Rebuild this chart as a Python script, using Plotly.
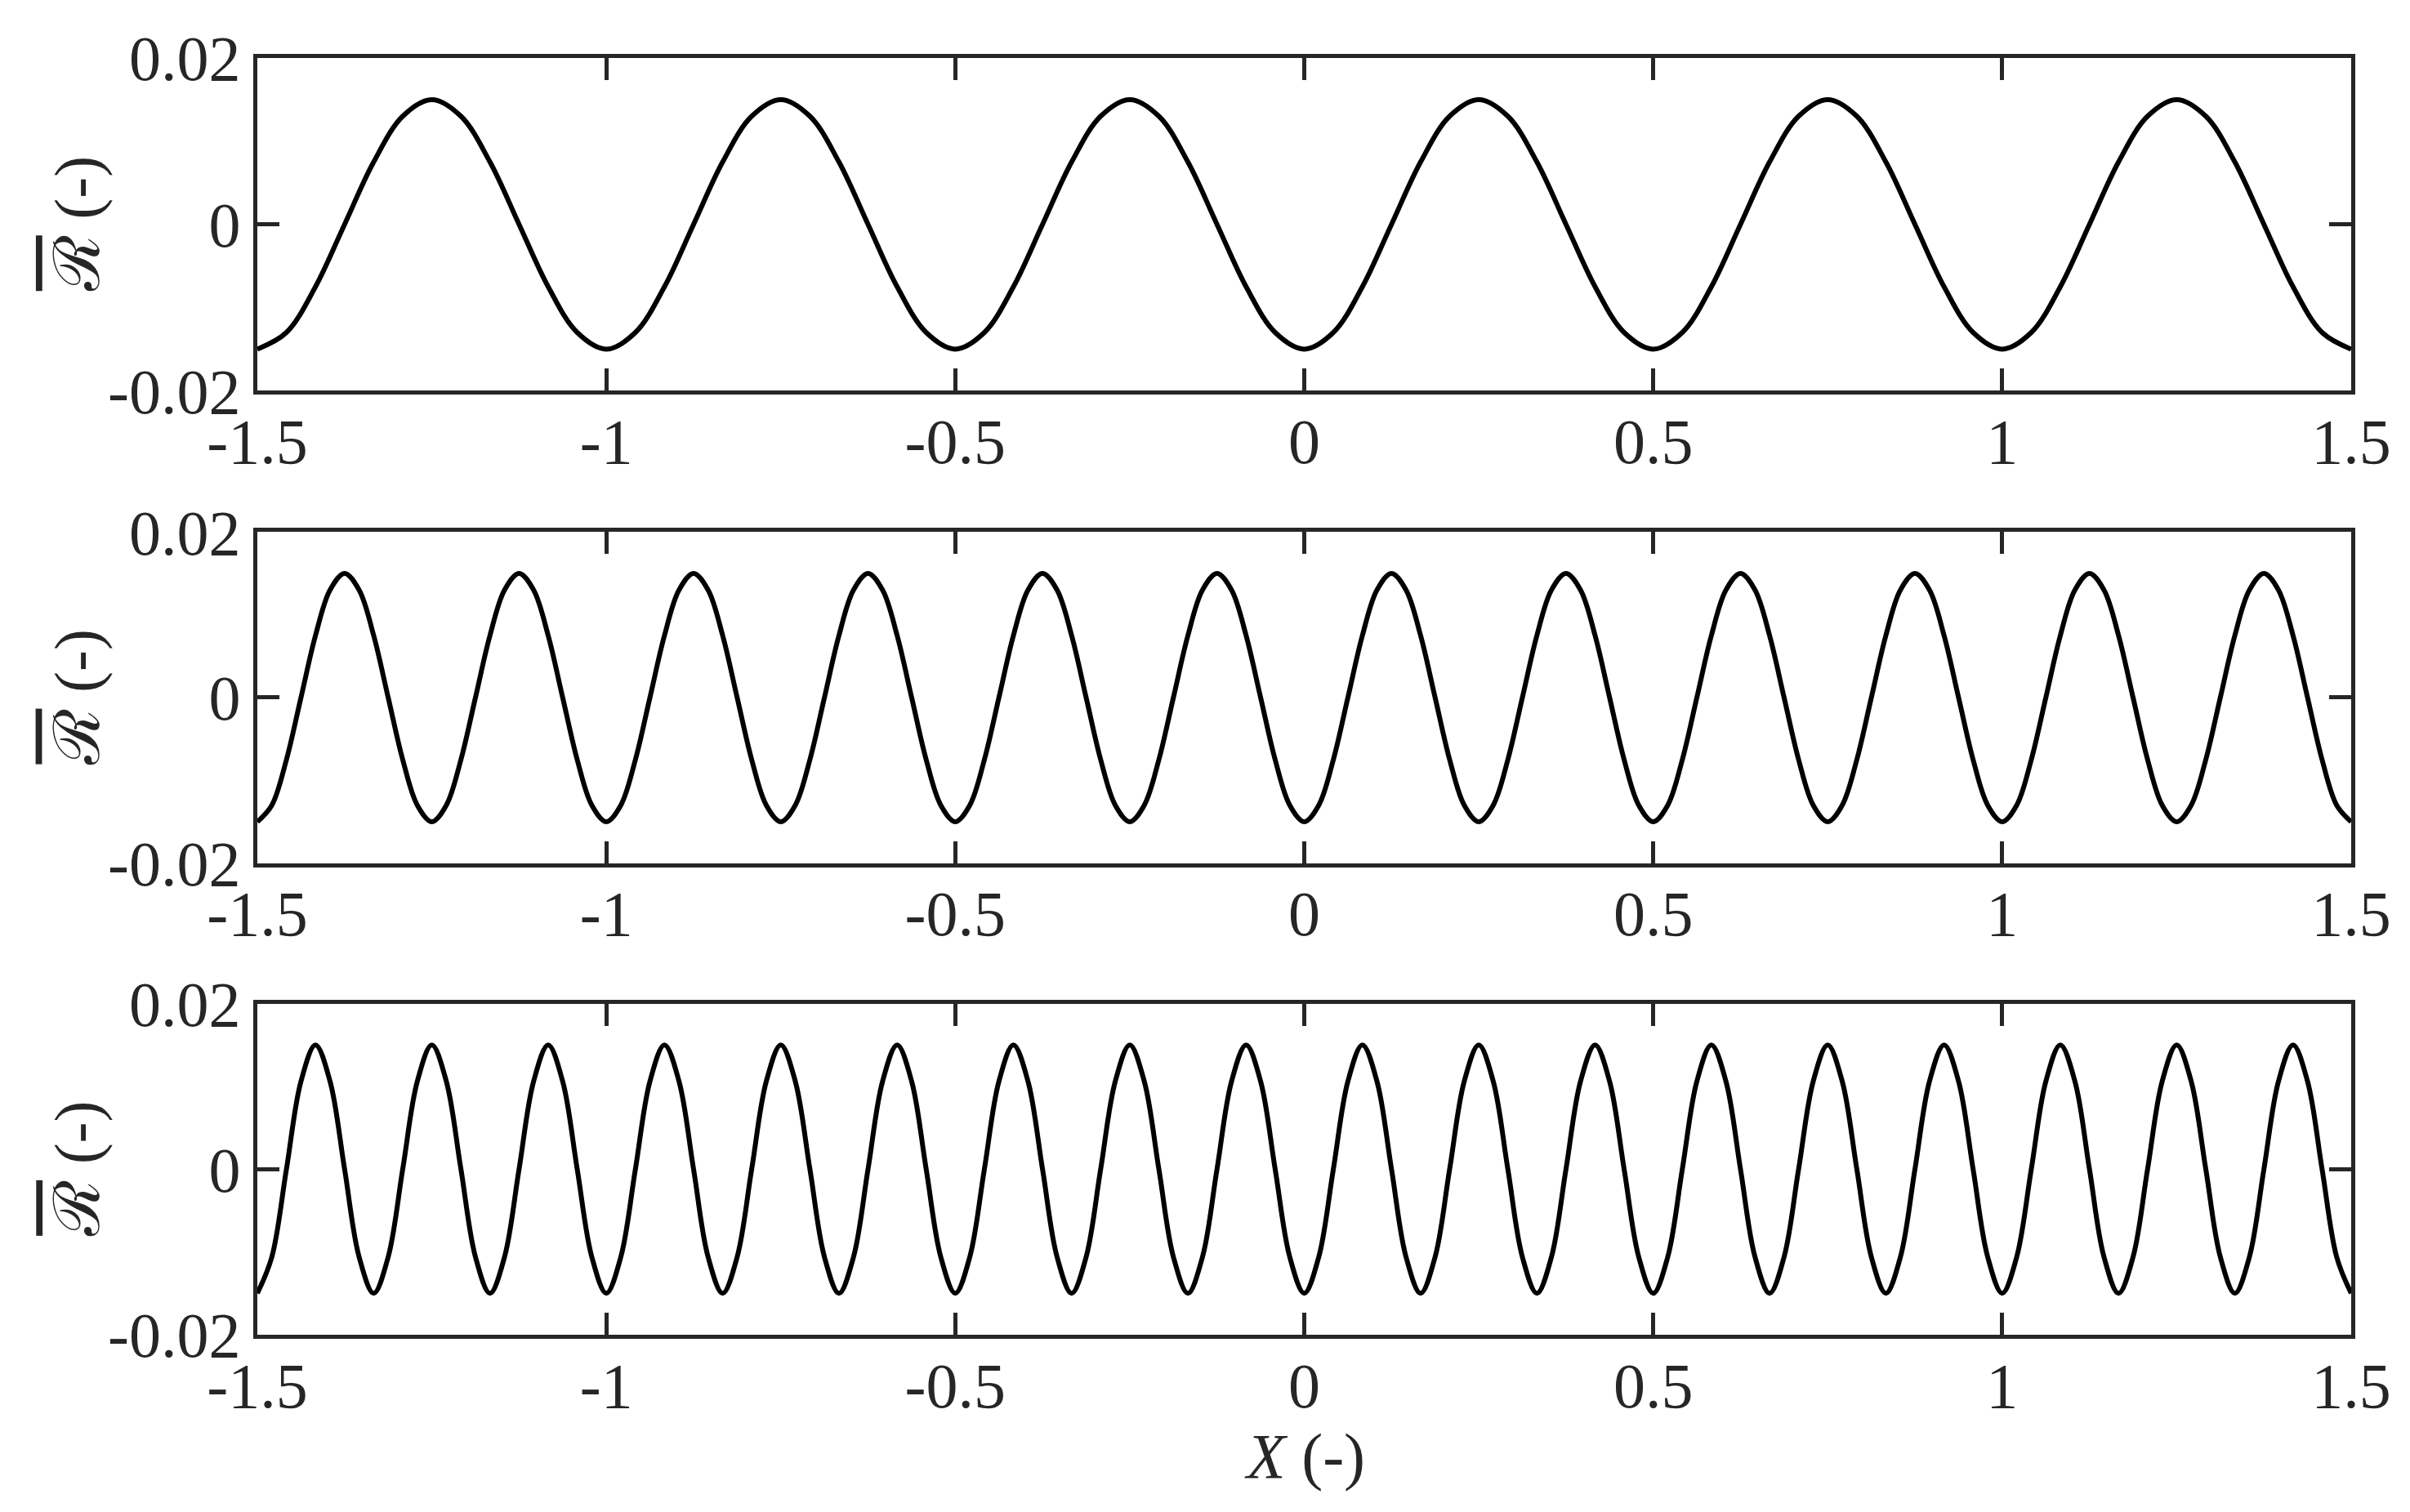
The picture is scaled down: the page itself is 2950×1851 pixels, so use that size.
import plotly.graph_objects as go
from plotly.subplots import make_subplots

# values at evenly spaced X positions
x_top = [-1.5, -1.4583, -1.4167, -1.375, -1.3333, -1.2917, -1.25, -1.2083, -1.1667, -1.125, -1.0833, -1.0417,
         -1.0, -0.9583, -0.9167, -0.875, -0.8333, -0.7917, -0.75, -0.7083, -0.6667, -0.625, -0.5833, -0.5417,
         -0.5, -0.4583, -0.4167, -0.375, -0.3333, -0.2917, -0.25, -0.2083, -0.1667, -0.125, -0.0833, -0.0417,
         0.0, 0.0417, 0.0833, 0.125, 0.1667, 0.2083, 0.25, 0.2917, 0.3333, 0.375, 0.4167, 0.4583,
         0.5, 0.5417, 0.5833, 0.625, 0.6667, 0.7083, 0.75, 0.7917, 0.8333, 0.875, 0.9167, 0.9583,
         1.0, 1.0417, 1.0833, 1.125, 1.1667, 1.2083, 1.25, 1.2917, 1.3333, 1.375, 1.4167, 1.4583, 1.5]
r_top = [-0.015, -0.013, -0.0075, 0, 0.0075, 0.013, 0.015, 0.013, 0.0075, 0, -0.0075, -0.013,
         -0.015, -0.013, -0.0075, 0, 0.0075, 0.013, 0.015, 0.013, 0.0075, 0, -0.0075, -0.013,
         -0.015, -0.013, -0.0075, 0, 0.0075, 0.013, 0.015, 0.013, 0.0075, 0, -0.0075, -0.013,
         -0.015, -0.013, -0.0075, 0, 0.0075, 0.013, 0.015, 0.013, 0.0075, 0, -0.0075, -0.013,
         -0.015, -0.013, -0.0075, 0, 0.0075, 0.013, 0.015, 0.013, 0.0075, 0, -0.0075, -0.013,
         -0.015, -0.013, -0.0075, 0, 0.0075, 0.013, 0.015, 0.013, 0.0075, 0, -0.0075, -0.013,
         -0.015]

# middle and bottom curves were read at the same X positions
x_fine = [-1.5, -1.4792, -1.4583, -1.4375, -1.4167, -1.3958, -1.375, -1.3542,
          -1.3333, -1.3125, -1.2917, -1.2708, -1.25, -1.2292, -1.2083, -1.1875,
          -1.1667, -1.1458, -1.125, -1.1042, -1.0833, -1.0625, -1.0417, -1.0208,
          -1.0, -0.9792, -0.9583, -0.9375, -0.9167, -0.8958, -0.875, -0.8542,
          -0.8333, -0.8125, -0.7917, -0.7708, -0.75, -0.7292, -0.7083, -0.6875,
          -0.6667, -0.6458, -0.625, -0.6042, -0.5833, -0.5625, -0.5417, -0.5208,
          -0.5, -0.4792, -0.4583, -0.4375, -0.4167, -0.3958, -0.375, -0.3542,
          -0.3333, -0.3125, -0.2917, -0.2708, -0.25, -0.2292, -0.2083, -0.1875,
          -0.1667, -0.1458, -0.125, -0.1042, -0.0833, -0.0625, -0.0417, -0.0208,
          0.0, 0.0208, 0.0417, 0.0625, 0.0833, 0.1042, 0.125, 0.1458,
          0.1667, 0.1875, 0.2083, 0.2292, 0.25, 0.2708, 0.2917, 0.3125,
          0.3333, 0.3542, 0.375, 0.3958, 0.4167, 0.4375, 0.4583, 0.4792,
          0.5, 0.5208, 0.5417, 0.5625, 0.5833, 0.6042, 0.625, 0.6458,
          0.6667, 0.6875, 0.7083, 0.7292, 0.75, 0.7708, 0.7917, 0.8125,
          0.8333, 0.8542, 0.875, 0.8958, 0.9167, 0.9375, 0.9583, 0.9792,
          1.0, 1.0208, 1.0417, 1.0625, 1.0833, 1.1042, 1.125, 1.1458,
          1.1667, 1.1875, 1.2083, 1.2292, 1.25, 1.2708, 1.2917, 1.3125,
          1.3333, 1.3542, 1.375, 1.3958, 1.4167, 1.4375, 1.4583, 1.4792, 1.5]
r_mid = [-0.015, -0.013, -0.0075, 0, 0.0075, 0.013, 0.015, 0.013, 0.0075, 0, -0.0075, -0.013,
         -0.015, -0.013, -0.0075, 0, 0.0075, 0.013, 0.015, 0.013, 0.0075, 0, -0.0075, -0.013,
         -0.015, -0.013, -0.0075, 0, 0.0075, 0.013, 0.015, 0.013, 0.0075, 0, -0.0075, -0.013,
         -0.015, -0.013, -0.0075, 0, 0.0075, 0.013, 0.015, 0.013, 0.0075, 0, -0.0075, -0.013,
         -0.015, -0.013, -0.0075, 0, 0.0075, 0.013, 0.015, 0.013, 0.0075, 0, -0.0075, -0.013,
         -0.015, -0.013, -0.0075, 0, 0.0075, 0.013, 0.015, 0.013, 0.0075, 0, -0.0075, -0.013,
         -0.015, -0.013, -0.0075, 0, 0.0075, 0.013, 0.015, 0.013, 0.0075, 0, -0.0075, -0.013,
         -0.015, -0.013, -0.0075, 0, 0.0075, 0.013, 0.015, 0.013, 0.0075, 0, -0.0075, -0.013,
         -0.015, -0.013, -0.0075, 0, 0.0075, 0.013, 0.015, 0.013, 0.0075, 0, -0.0075, -0.013,
         -0.015, -0.013, -0.0075, 0, 0.0075, 0.013, 0.015, 0.013, 0.0075, 0, -0.0075, -0.013,
         -0.015, -0.013, -0.0075, 0, 0.0075, 0.013, 0.015, 0.013, 0.0075, 0, -0.0075, -0.013,
         -0.015, -0.013, -0.0075, 0, 0.0075, 0.013, 0.015, 0.013, 0.0075, 0, -0.0075, -0.013,
         -0.015]
r_bot = [-0.015, -0.0106, 0, 0.0106, 0.015, 0.0106, 0, -0.0106,
         -0.015, -0.0106, 0, 0.0106, 0.015, 0.0106, 0, -0.0106,
         -0.015, -0.0106, 0, 0.0106, 0.015, 0.0106, 0, -0.0106,
         -0.015, -0.0106, 0, 0.0106, 0.015, 0.0106, 0, -0.0106,
         -0.015, -0.0106, 0, 0.0106, 0.015, 0.0106, 0, -0.0106,
         -0.015, -0.0106, 0, 0.0106, 0.015, 0.0106, 0, -0.0106,
         -0.015, -0.0106, 0, 0.0106, 0.015, 0.0106, 0, -0.0106,
         -0.015, -0.0106, 0, 0.0106, 0.015, 0.0106, 0, -0.0106,
         -0.015, -0.0106, 0, 0.0106, 0.015, 0.0106, 0, -0.0106,
         -0.015, -0.0106, 0, 0.0106, 0.015, 0.0106, 0, -0.0106,
         -0.015, -0.0106, 0, 0.0106, 0.015, 0.0106, 0, -0.0106,
         -0.015, -0.0106, 0, 0.0106, 0.015, 0.0106, 0, -0.0106,
         -0.015, -0.0106, 0, 0.0106, 0.015, 0.0106, 0, -0.0106,
         -0.015, -0.0106, 0, 0.0106, 0.015, 0.0106, 0, -0.0106,
         -0.015, -0.0106, 0, 0.0106, 0.015, 0.0106, 0, -0.0106,
         -0.015, -0.0106, 0, 0.0106, 0.015, 0.0106, 0, -0.0106,
         -0.015, -0.0106, 0, 0.0106, 0.015, 0.0106, 0, -0.0106,
         -0.015, -0.0106, 0, 0.0106, 0.015, 0.0106, 0, -0.0106,
         -0.015]

x_ticks = [-1.5, -1, -0.5, 0, 0.5, 1, 1.5]
x_ticktext = ["-1.5", "-1", "-0.5", "0", "0.5", "1", "1.5"]
y_ticks = [-0.02, 0, 0.02]
y_ticktext = ["-0.02", "0", "0.02"]

AX = "#262626"
FONT = "Liberation Serif"

fig = make_subplots(rows=3, cols=1, vertical_spacing=0.1)

for i, (xs, ys) in enumerate([(x_top, r_top), (x_fine, r_mid), (x_fine, r_bot)], start=1):
    fig.add_trace(go.Scatter(x=xs, y=ys, mode="lines",
                             line=dict(color="black", width=6, shape="spline", smoothing=1),
                             showlegend=False), row=i, col=1)

# fixed domains so the three boxes sit where they do in the reference
domains = [[0.7394, 1.0], [0.3694, 0.6287], [0.0, 0.2594]]
for i, dom in enumerate(domains, start=1):
    fig.update_yaxes(domain=dom, row=i, col=1)

common = dict(showline=True, linecolor=AX, linewidth=5, mirror="ticks",
              ticks="inside", ticklen=27, tickwidth=5, tickcolor=AX,
              showgrid=False, zeroline=False,
              tickfont=dict(family=FONT, size=78, color=AX))
fig.update_xaxes(range=[-1.5, 1.5], tickvals=x_ticks, ticktext=x_ticktext,
                 ticklabelstandoff=-10, **common)
fig.update_yaxes(range=[-0.02, 0.02], tickvals=y_ticks, ticktext=y_ticktext, **common)

# axis titles as annotations so they land where the reference has them
ylab = "<span style=\"text-decoration:overline\">\u211b</span> (-)"
for yref in ["y domain", "y2 domain", "y3 domain"]:
    fig.add_annotation(text=ylab, textangle=-90, xref="paper", yref=yref, x=-0.086, y=0.5,
                       xanchor="center", yanchor="middle", showarrow=False,
                       font=dict(family=FONT, size=78, color=AX))
fig.add_annotation(text="<i>X</i> (-)", xref="paper", yref="paper", x=0.5, y=-0.095,
                   xanchor="center", yanchor="middle", showarrow=False,
                   font=dict(family=FONT, size=78, color=AX))

fig.update_layout(width=2950, height=1851, plot_bgcolor="white", paper_bgcolor="white",
                  margin=dict(l=307, r=80, t=63, b=225, autoexpand=False))

fig.write_html("out.html")
